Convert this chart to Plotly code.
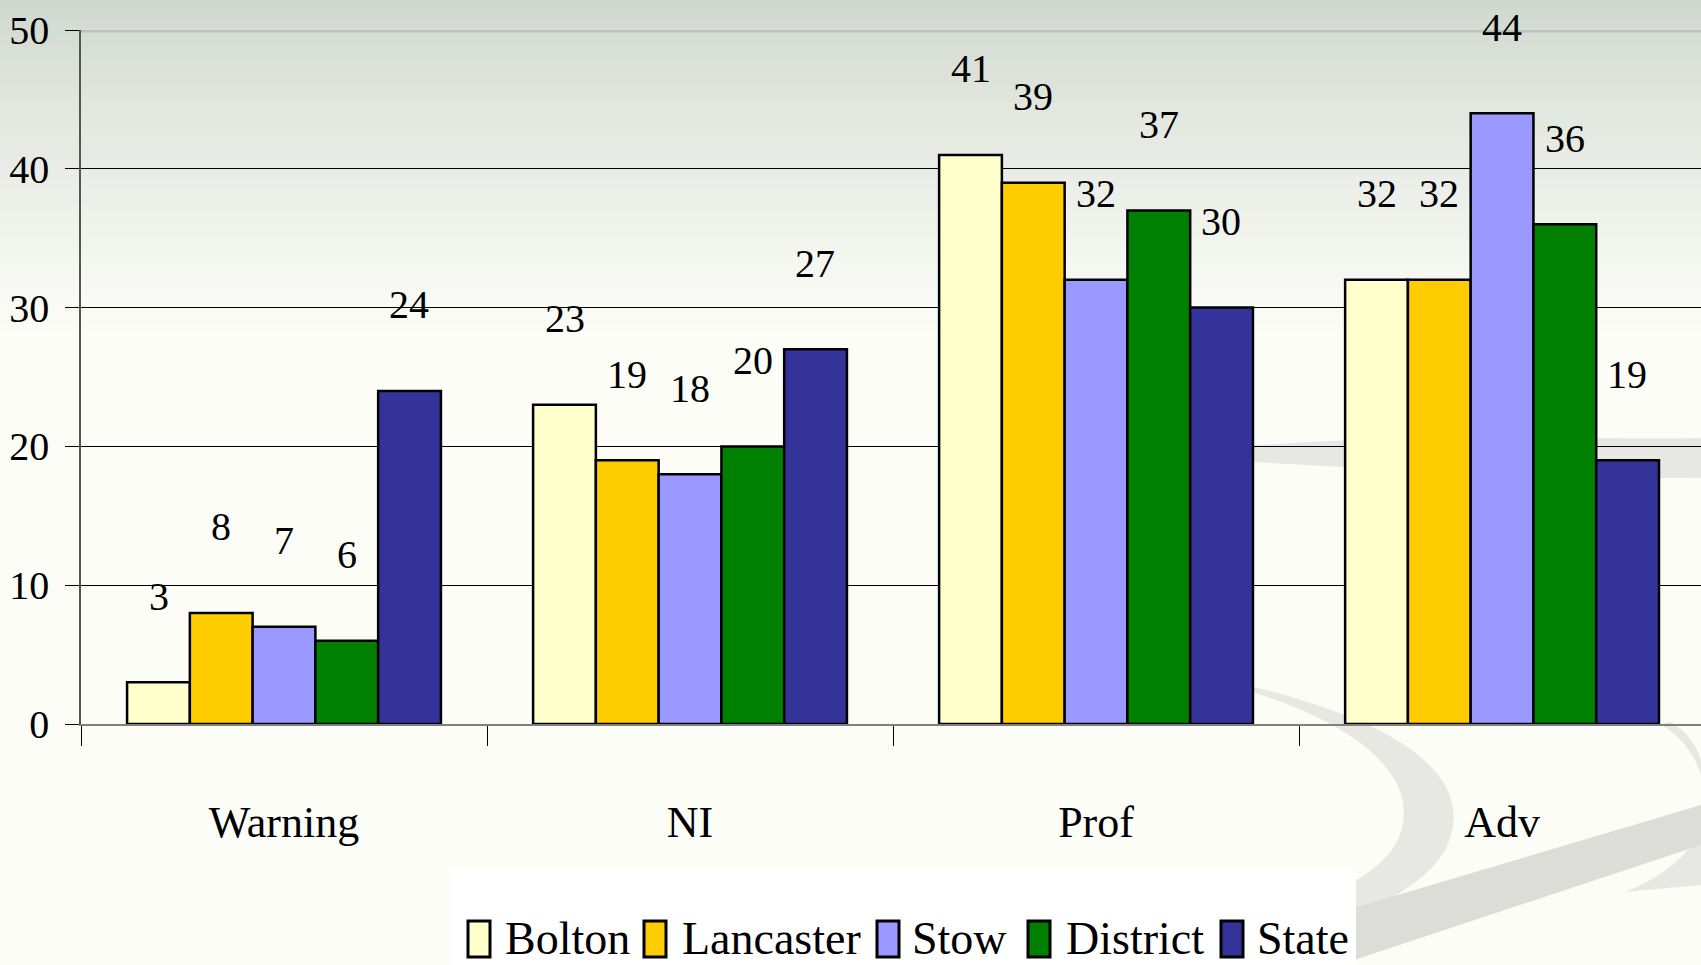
import plotly.graph_objects as go

# данные
categories = ["Warning", "NI", "Prof", "Adv"]
series = ["Bolton", "Lancaster", "Stow", "District", "State"]
bolton = [3, 23, 41, 32]
lancaster = [8, 19, 39, 32]
stow = [7, 18, 32, 44]
district = [6, 20, 37, 36]
state = [24, 27, 30, 19]
y_ticks = [0, 10, 20, 30, 40, 50]

values = [bolton, lancaster, stow, district, state]
colors = ["#FFFFCC", "#FFCC00", "#9999FF", "#008000", "#333399"]

W, H = 1701, 965
L, R, T, B = 81, 0, 30, 241
FONT = "Liberation Serif"


def px(x):  # пиксели -> paper
    return (x - L) / (W - L - R)


def py(y):
    return (H - B - y) / (H - T - B)


def P(x, y):
    return "%.4f,%.4f" % (px(x), py(y))


fig = go.Figure()

for name, vals, col in zip(series, values, colors):
    fig.add_trace(go.Bar(x=categories, y=vals, name=name,
                         marker_color=col,
                         marker_line_color="black", marker_line_width=2.5,
                         showlegend=False))

shapes = []

# фоновый градиент сверху
n = 40
top_c, bot_c = (207, 215, 206), (253, 253, 248)
for i in range(n):
    y0, y1 = i * 340 / n, (i + 1) * 340 / n + 1
    t = (i / (n - 1)) ** 0.8
    c = tuple(round(a + (b - a) * t) for a, b in zip(top_c, bot_c))
    shapes.append(dict(type="rect", xref="paper", yref="paper", layer="below",
                       x0=px(0), x1=px(W), y0=py(y0), y1=py(y1),
                       fillcolor="rgb(%d,%d,%d)" % c, line_width=0))

# серые «волны» справа внизу
swoosh = "#e7e7e3"
shapes.append(dict(type="path", xref="paper", yref="paper", layer="below",
                   fillcolor=swoosh, line_width=0,
                   path="M" + P(1180, 452) + " C" + P(1400, 430) + " " + P(1550, 440) + " " + P(1701, 438)
                        + " L" + P(1701, 478) + " C" + P(1550, 480) + " " + P(1400, 470) + " " + P(1180, 458) + " Z"))
shapes.append(dict(type="path", xref="paper", yref="paper", layer="below",
                   fillcolor=swoosh, line_width=0,
                   path="M" + P(1240, 688) + " C" + P(1380, 730) + " " + P(1425, 790) + " " + P(1395, 845)
                        + " C" + P(1365, 895) + " " + P(1250, 930) + " " + P(1060, 968)
                        + " L" + P(1190, 968) + " C" + P(1340, 930) + " " + P(1420, 895) + " " + P(1445, 850)
                        + " C" + P(1475, 790) + " " + P(1430, 730) + " " + P(1250, 686) + " Z"))
shapes.append(dict(type="path", xref="paper", yref="paper", layer="below",
                   fillcolor=swoosh, line_width=0,
                   path="M" + P(1660, 724) + " C" + P(1705, 750) + " " + P(1712, 800) + " " + P(1698, 835)
                        + " C" + P(1685, 860) + " " + P(1655, 880) + " " + P(1625, 892)
                        + " L" + P(1701, 885) + " L" + P(1701, 760) + " C" + P(1695, 742) + " " + P(1685, 730) + " " + P(1670, 722) + " Z"))
shapes.append(dict(type="path", xref="paper", yref="paper", layer="below",
                   fillcolor="#dcdcd8", line_width=0,
                   path="M" + P(1330, 915) + " L" + P(1701, 805) + " L" + P(1701, 845) + " L" + P(1330, 968) + " Z"))

# белая подложка легенды
shapes.append(dict(type="rect", xref="paper", yref="paper", layer="below",
                   x0=px(450), x1=px(1356), y0=py(868), y1=py(H + 5),
                   fillcolor="white", line_width=0))

# серая линия на 50 (поверх чёрной сетки)
shapes.append(dict(type="line", xref="paper", yref="y", x0=0, x1=1, y0=50, y1=50,
                   line=dict(color="#c0c0c0", width=5), layer="above"))

# легенда вручную
leg_box_x = [468, 644, 877, 1028, 1221]
leg_text_x = [503, 680, 910, 1064, 1255]
annotations = []
for name, col, bx, tx in zip(series, colors, leg_box_x, leg_text_x):
    shapes.append(dict(type="rect", xref="paper", yref="paper",
                       x0=px(bx), x1=px(bx + 22), y0=py(957), y1=py(921),
                       fillcolor=col, line=dict(color="black", width=3)))
    annotations.append(dict(text=name, xref="paper", yref="paper",
                            x=px(tx), y=py(938), xanchor="left", yanchor="middle",
                            showarrow=False, font=dict(family=FONT, size=46, color="black")))

# подписи значений
bar_w = (W - L - R) / 4 * (1 - 0.227) / 5
for i, vals in enumerate(values):
    for cat, v in zip(categories, vals):
        annotations.append(dict(text=str(v), x=cat, y=v, xref="x", yref="y",
                                xshift=(i - 2) * bar_w, yshift=86,
                                yanchor="middle", showarrow=False,
                                font=dict(family=FONT, size=40, color="black")))

fig.update_layout(
    width=W, height=H,
    margin=dict(l=L, r=R, t=T, b=B),
    barmode="group", bargap=0.227, bargroupgap=0,
    paper_bgcolor="#fdfdf8", plot_bgcolor="rgba(0,0,0,0)",
    shapes=shapes, annotations=annotations,
    font=dict(family=FONT, color="black"),
    showlegend=False,
)
fig.update_xaxes(range=[-0.5, 3.49], showline=True, linecolor="#808080", linewidth=2,
                 ticks="outside", tickson="boundaries", ticklen=20, tickcolor="black", tickwidth=1,
                 tickfont=dict(family=FONT, size=44), ticklabelstandoff=58, showgrid=False)
fig.update_yaxes(range=[0, 50], tickvals=y_ticks, showline=True, linecolor="#555555", linewidth=1.5,
                 ticks="outside", ticklen=14, tickcolor="black", tickwidth=1,
                 gridcolor="black", gridwidth=1, zeroline=False,
                 tickfont=dict(family=FONT, size=40), ticklabelstandoff=8)

# убираем отступ body, чтобы картинка начиналась с (0,0)
fig.write_html("out.html", config={"displayModeBar": False},
               post_script="document.body.style.margin='0';")
